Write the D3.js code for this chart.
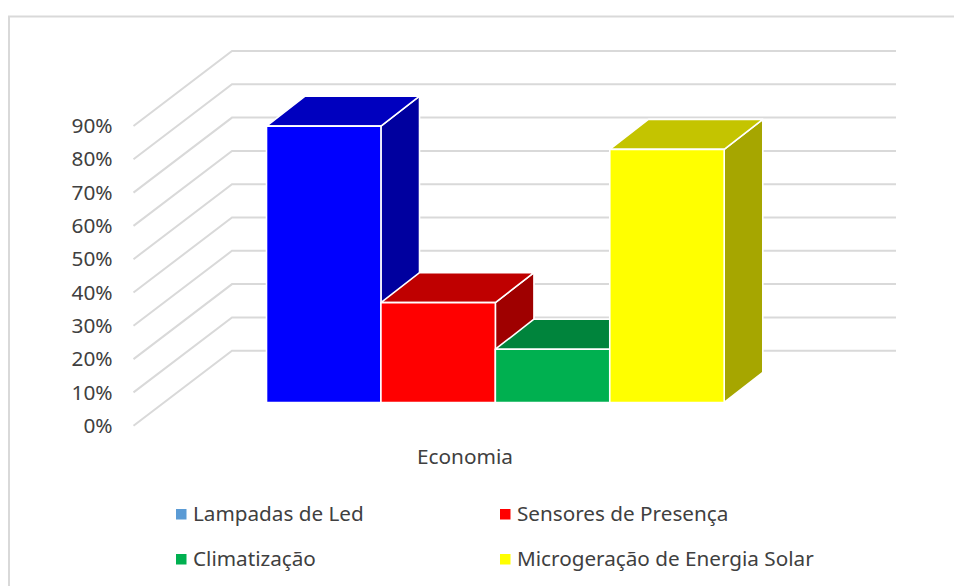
<!DOCTYPE html>
<html><head><meta charset="utf-8">
<script src="https://cdn.jsdelivr.net/npm/d3@7"></script>
<style>html,body{margin:0;padding:0;background:#fff;overflow:hidden}svg{display:block}text{font-family:"Noto Sans",sans-serif;fill:#404040}</style>
</head><body><div id="chart"></div>
<script>
const category = ["Economia"];
const seriesNames = ["Lampadas de Led","Sensores de Presença","Climatização","Microgeração de Energia Solar"];
const seriesValues = [0.83,0.30,0.16,0.76];
const faceColors = ["#0000ff","#ff0000","#00b050","#ffff00"];
const topColors = ["#0000bf","#bf0000","#00843c","#c4c400"];
const sideColors = ["#00009f","#9f0000","#006e32","#a6a600"];
const legendColors = ["#5b9bd5","#ff0000","#00b050","#ffff00"];
const yTicks = [0,0.1,0.2,0.3,0.4,0.5,0.6,0.7,0.8,0.9];

const W=954,H=586;
const svg=d3.select("#chart").append("svg").attr("width",W).attr("height",H);
svg.append("path").attr("d",`M9,${H}V16.5H${W}`).attr("fill","none").attr("stroke","#d9d9d9").attr("stroke-width",2);

const y=d3.scaleLinear().domain([0,0.9]).range([425.7,126]);
const wallDx=98.5,wallDy=75,wallRight=896,frontX=133.5;
const grid=svg.append("g");
grid.selectAll("path").data(yTicks).join("path")
  .attr("d",t=>`M${frontX},${y(t)}L${frontX+wallDx},${y(t)-wallDy}H${wallRight}`)
  .attr("fill","none").attr("stroke","#d9d9d9").attr("stroke-width",2);

const axis=d3.axisLeft(y).tickValues(yTicks).tickSize(0).tickPadding(0).tickFormat(d3.format(".0%"));
const axisG=svg.append("g").attr("transform","translate(112.6,0)").call(axis);
axisG.select(".domain").remove();
axisG.selectAll("text").attr("font-size",20.8).style("font-family",'"Noto Sans",sans-serif').attr("fill","#404040");

const x=d3.scaleBand().domain(seriesNames).range([266.5,724.2]);
const baseY=402.5,depthDx=38.6,depthDy=30;
const h=v=>y(0)-y(v);
const bars=svg.append("g").selectAll("g").data(seriesNames).join("g");
bars.each(function(n,i){
  const g=d3.select(this),x0=x(n),x1=x0+x.bandwidth(),top=baseY-h(seriesValues[i]);
  const st={stroke:"#fff","stroke-width":1.6,"stroke-linejoin":"round"};
  const poly=(pts,fill)=>{const p=g.append("polygon").attr("points",pts.join(" ")).attr("fill",fill);Object.entries(st).forEach(([k,v])=>p.attr(k,v));};
  poly([[x1,top],[x1+depthDx,top-depthDy],[x1+depthDx,baseY-depthDy],[x1,baseY]],sideColors[i]);
  poly([[x0,top],[x0+depthDx,top-depthDy],[x1+depthDx,top-depthDy],[x1,top]],topColors[i]);
  poly([[x0,top],[x1,top],[x1,baseY],[x0,baseY]],faceColors[i]);
});

svg.append("text").attr("x",465).attr("y",463.5).attr("text-anchor","middle").attr("font-size",20.8).text(category[0]);

const legendCols=[176,500],legendRows=[514,559];
const leg=svg.append("g").selectAll("g").data(seriesNames).join("g")
  .attr("transform",(d,i)=>`translate(${legendCols[i%2]},${legendRows[Math.floor(i/2)]})`);
leg.append("rect").attr("y",-5).attr("width",10.5).attr("height",10.5).attr("fill",(d,i)=>legendColors[i]);
leg.append("text").attr("x",17).attr("y",6.5).attr("font-size",20.7).text(d=>d);
</script></body></html>
